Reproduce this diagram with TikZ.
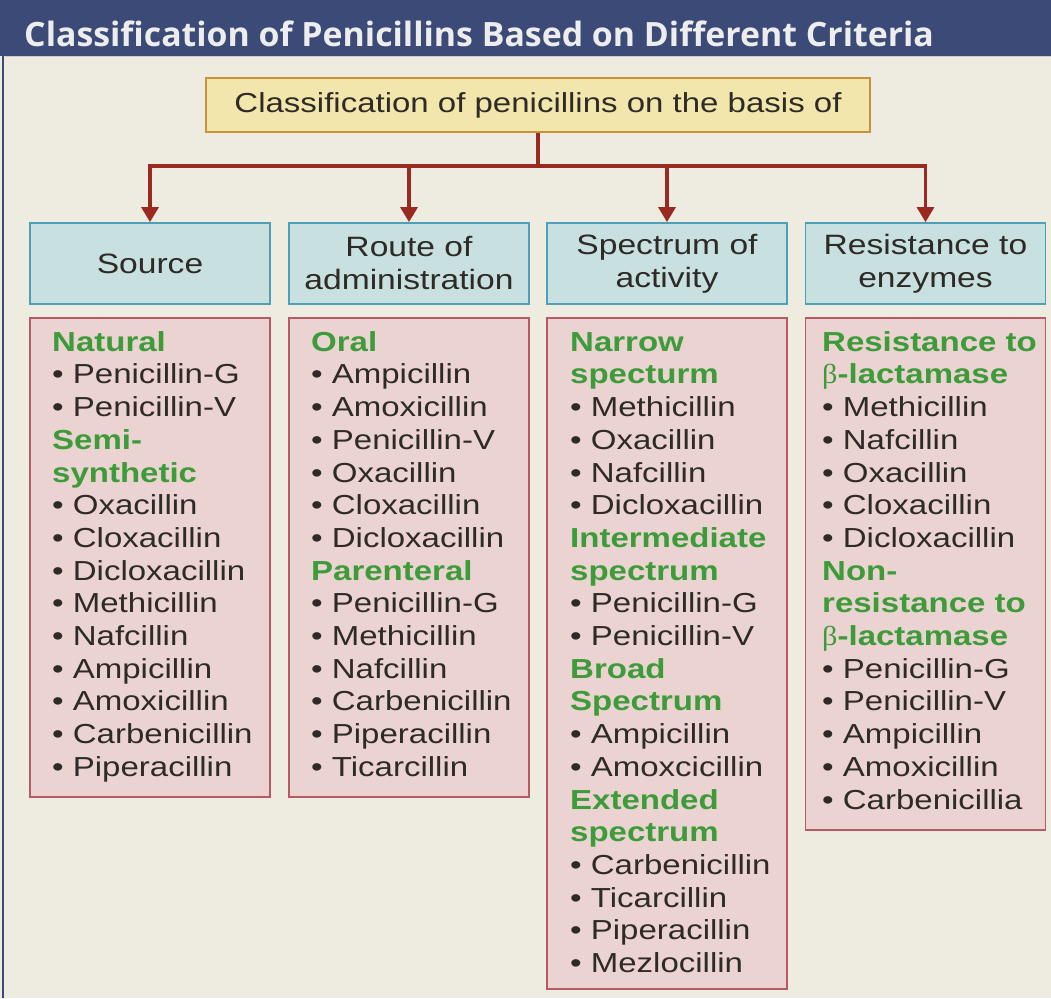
\documentclass[tikz,border=0pt]{standalone}
\usepackage{fontspec}
\setmainfont{Liberation Sans}[FakeStretch=1.2]
\newfontfamily\titlefont{Open Sans}[FakeStretch=1.01]
\newfontfamily\greekfont{Liberation Serif}[FakeStretch=1.1]
\usetikzlibrary{arrows.meta}
\definecolor{bgbeige}{HTML}{EEEBE0}
\definecolor{navy}{HTML}{3C4A77}
\definecolor{titletxt}{HTML}{EDEDED}
\definecolor{rootfill}{HTML}{F2E6AC}
\definecolor{rootdraw}{HTML}{C9923A}
\definecolor{connred}{HTML}{9A2A20}
\definecolor{catfill}{HTML}{C8E0E0}
\definecolor{catdraw}{HTML}{4C9FB4}
\definecolor{listfill}{HTML}{EBD3D1}
\definecolor{listdraw}{HTML}{B65A65}
\definecolor{hgreen}{HTML}{3D9B3A}
\definecolor{bodytxt}{HTML}{2E2A26}
\newcommand{\PHead}[1]{\textcolor{hgreen}{\bfseries #1}}
\newcommand{\PItem}[1]{• #1}
\newcommand{\PBeta}{{\greekfont\mdseries β}}
\newcommand{\PStrut}{\rule{0pt}{20pt}}
\tikzset{
  titlestyle/.style={font=\titlefont\bfseries\fontsize{33.5}{38}\selectfont, text=titletxt, inner sep=0pt},
  rootbox/.style={draw=rootdraw, fill=rootfill, line width=1.8pt, minimum width=664pt, minimum height=54pt, inner sep=0pt, text=bodytxt, font=\fontsize{27.5}{32}\selectfont},
  catbox/.style={draw=catdraw, fill=catfill, line width=1.8pt, minimum width=240pt, minimum height=81pt, inner sep=0pt, align=center, text=bodytxt, font=\fontsize{28}{33}\selectfont},
  listbox/.style={draw=listdraw, fill=listfill, line width=1.6pt, minimum width=240pt, inner sep=0pt, anchor=north},
  listtext/.style={anchor=north west, inner sep=0pt, align=left, text=bodytxt, font=\fontsize{27.5}{32.7}\selectfont},
  conn/.style={draw=connred, line width=3.2pt},
  connarrow/.style={conn, -{Triangle[width=17pt,length=15pt]}}
}
\begin{document}
\begin{tikzpicture}[x=1pt,y=-1pt]
\useasboundingbox (0,0) rectangle (1051,998);
\fill[bgbeige] (0,0) rectangle (1051,998);
\fill[navy] (0,0) rectangle (1051,56);
\draw[navy, line width=2.5pt] (3,0) -- (3,998);
\draw[gray!40, line width=1pt] (5,57) -- (1051,57);
\node[titlestyle, anchor=base west] (title) at (24,46) {Classification of Penicillins Based on Different Criteria};

\node[rootbox] (root) at (538,105) {Classification of penicillins on the basis of};

\node[catbox] (c1) at (150,263.5) {Source};
\node[catbox] (c2) at (409,263.5) {Route of\\administration};
\node[catbox] (c3) at (667,263.5) {Spectrum of\\activity};
\node[catbox] (c4) at (925.5,263.5) {Resistance to\\enzymes};

\coordinate (hub) at (538,166);
\draw[conn] (root.south) -- (hub);
\draw[conn, line cap=butt] ([xshift=-1.6pt]c1.north |- hub) -- ([xshift=1.6pt]c4.north |- hub);
\draw[connarrow] (c1.north |- hub) -- (c1.north);
\draw[connarrow] (c2.north |- hub) -- (c2.north);
\draw[connarrow] (c3.north |- hub) -- (c3.north);
\draw[connarrow] (c4.north |- hub) -- (c4.north);

\node[listbox, minimum height=479pt] (l1) at (150,317) {};
\node[listbox, minimum height=479pt] (l2) at (409,317) {};
\node[listbox, minimum height=671pt] (l3) at (667,317) {};
\node[listbox, minimum height=512pt] (l4) at (925.5,317) {};

\node[listtext] (t1) at (52,331) {\PStrut\PHead{Natural}\\
\PItem{Penicillin-G}\\ \PItem{Penicillin-V}\\
\PHead{Semi-}\\ \PHead{synthetic}\\
\PItem{Oxacillin}\\ \PItem{Cloxacillin}\\ \PItem{Dicloxacillin}\\
\PItem{Methicillin}\\ \PItem{Nafcillin}\\ \PItem{Ampicillin}\\
\PItem{Amoxicillin}\\ \PItem{Carbenicillin}\\ \PItem{Piperacillin}};

\node[listtext] (t2) at (311,331) {\PStrut\PHead{Oral}\\
\PItem{Ampicillin}\\ \PItem{Amoxicillin}\\ \PItem{Penicillin-V}\\
\PItem{Oxacillin}\\ \PItem{Cloxacillin}\\ \PItem{Dicloxacillin}\\
\PHead{Parenteral}\\
\PItem{Penicillin-G}\\ \PItem{Methicillin}\\ \PItem{Nafcillin}\\
\PItem{Carbenicillin}\\ \PItem{Piperacillin}\\ \PItem{Ticarcillin}};

\node[listtext] (t3) at (570,331) {\PStrut\PHead{Narrow}\\ \PHead{specturm}\\
\PItem{Methicillin}\\ \PItem{Oxacillin}\\ \PItem{Nafcillin}\\ \PItem{Dicloxacillin}\\
\PHead{Intermediate}\\ \PHead{spectrum}\\
\PItem{Penicillin-G}\\ \PItem{Penicillin-V}\\
\PHead{Broad}\\ \PHead{Spectrum}\\
\PItem{Ampicillin}\\ \PItem{Amoxcicillin}\\
\PHead{Extended}\\ \PHead{spectrum}\\
\PItem{Carbenicillin}\\ \PItem{Ticarcillin}\\ \PItem{Piperacillin}\\ \PItem{Mezlocillin}};

\node[listtext] (t4) at (822,331) {\PStrut\PHead{Resistance to}\\ \PHead{\PBeta-lactamase}\\
\PItem{Methicillin}\\ \PItem{Nafcillin}\\ \PItem{Oxacillin}\\ \PItem{Cloxacillin}\\ \PItem{Dicloxacillin}\\
\PHead{Non-}\\ \PHead{resistance to}\\ \PHead{\PBeta-lactamase}\\
\PItem{Penicillin-G}\\ \PItem{Penicillin-V}\\ \PItem{Ampicillin}\\ \PItem{Amoxicillin}\\ \PItem{Carbenicillia}};
\end{tikzpicture}
\end{document}
